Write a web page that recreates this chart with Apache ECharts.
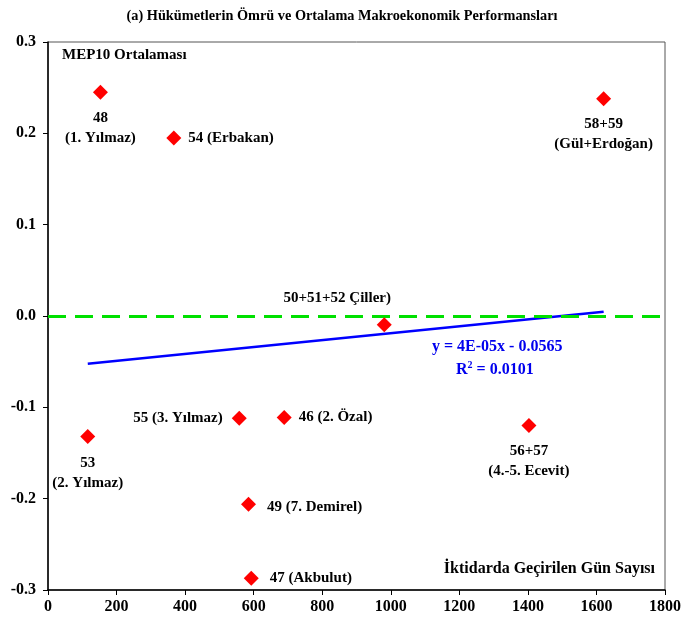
<!DOCTYPE html>
<html><head><meta charset="utf-8">
<script src="https://cdn.jsdelivr.net/npm/echarts@6/dist/echarts.min.js"></script>
<style>html,body{margin:0;padding:0;background:#fff}#c{width:684px;height:631px}</style>
</head><body><div id="c"></div>
<script>
// Data
const days = [153, 367, 1621, 981, 558, 689, 116, 1403, 585, 593];
const mep10 = [0.245, 0.195, 0.238, -0.0095, -0.112, -0.111, -0.132, -0.120, -0.206, -0.287];
const names = ['48\n(1. Yılmaz)', '54 (Erbakan)', '58+59\n(Gül+Erdoğan)', '50+51+52 Çiller)', '55 (3. Yılmaz)', '46 (2. Özal)', '53\n(2. Yılmaz)', '56+57\n(4.-5. Ecevit)', '49 (7. Demirel)', '47 (Akbulut)'];
const xTicks = [0, 200, 400, 600, 800, 1000, 1200, 1400, 1600, 1800];
const yTicks = [-0.3, -0.2, -0.1, 0.0, 0.1, 0.2, 0.3];
const titleText = '(a) Hükümetlerin Ömrü ve Ortalama Makroekonomik Performansları';
const yName = 'MEP10 Ortalaması';
const xName = 'İktidarda Geçirilen Gün Sayısı';
const eqText = 'y = 4E-05x - 0.0565';
const r2Text = '0.0101';

// label placement (style, not data)
const placement = [
  {position: 'bottom', distance: 8},
  {position: 'right', distance: 7},
  {position: 'bottom', distance: 8},
  {position: 'top', distance: 9, offset: [-47, 0]},
  {position: 'left', distance: 9},
  {position: 'right', distance: 7},
  {position: 'bottom', distance: 9},
  {position: 'bottom', distance: 8},
  {position: 'right', distance: 11, offset: [0, 3]},
  {position: 'right', distance: 11}
];

// regression computed from data
const n = days.length;
const mx = days.reduce((a,b)=>a+b,0)/n, my = mep10.reduce((a,b)=>a+b,0)/n;
let sxy=0, sxx=0;
for (let i=0;i<n;i++){ sxy += (days[i]-mx)*(mep10[i]-my); sxx += (days[i]-mx)**2; }
const slope = sxy/sxx, intercept = my - slope*mx;
const xmin = Math.min(...days), xmax = Math.max(...days);
const trend = [[xmin, intercept+slope*xmin],[xmax, intercept+slope*xmax]];

const font = '"Liberation Serif", "Times New Roman", serif';
const lab = {fontFamily: font, fontWeight: 'bold', fontSize: 15, color: '#000', lineHeight: 20};

const chart = echarts.init(document.getElementById('c'), null, {renderer: 'canvas'});
chart.setOption({
  animation: false,
  backgroundColor: '#fff',
  title: {text: titleText, left: 'center', top: 4, textStyle: {fontFamily: font, fontWeight: 'bold', fontSize: 14.3, color: '#000'}},
  grid: {left: 48, right: 15, top: 42, bottom: 41, show: true, borderColor: '#555', borderWidth: 1, backgroundColor: 'transparent'},
  xAxis: {type: 'value', min: xTicks[0], max: xTicks[xTicks.length-1], interval: 200,
    axisLine: {show: true, onZero: false, lineStyle: {color: '#000', width: 1.5}},
    axisTick: {show: true, length: 5, lineStyle: {color: '#000'}},
    splitLine: {show: false},
    axisLabel: {margin: 9, fontFamily: font, fontWeight: 'bold', fontSize: 16, color: '#000', formatter: v => String(v)}},
  yAxis: {type: 'value', min: yTicks[0], max: yTicks[yTicks.length-1], interval: 0.1,
    axisLine: {show: true, onZero: false, lineStyle: {color: '#000', width: 1.5}},
    axisTick: {show: true, length: 5, lineStyle: {color: '#000'}},
    splitLine: {show: false},
    axisLabel: {margin: 12, fontFamily: font, fontWeight: 'bold', fontSize: 16, color: '#000', formatter: v => v.toFixed(1)}},
  graphic: [
    {type: 'text', left: 62, top: 48, style: {text: yName, font: 'bold 15px ' + font, fill: '#000'}},
    {type: 'text', right: 29, top: 561, style: {text: xName, font: 'bold 16px ' + font, fill: '#000'}},
    {type: 'text', left: 432, top: 339, style: {text: eqText, font: 'bold 16px ' + font, fill: '#0000ee'}},
    {type: 'text', left: 456, top: 360, style: {
      text: '{a|R}{s|2}{a| = ' + r2Text + '}',
      rich: {a: {font: 'bold 16px ' + font, fill: '#0000ee', color: '#0000ee', verticalAlign: 'bottom'},
             s: {font: 'bold 10px ' + font, fill: '#0000ee', color: '#0000ee', verticalAlign: 'top', padding: [0,0,8,0]}}}}
  ],
  series: [
    {type: 'line', data: trend, symbol: 'none', lineStyle: {color: '#0000ff', width: 2.5}, z: 3,
     markLine: {silent: true, symbol: 'none', label: {show: false},
       lineStyle: {color: '#00e000', width: 3, type: [18, 9]},
       data: [{yAxis: 0}]}},
    {type: 'scatter', symbol: 'diamond', symbolSize: 15, itemStyle: {color: '#ff0000', opacity: 1}, z: 5,
     data: days.map((d, i) => ({value: [d, mep10[i]], label: Object.assign({show: true, formatter: names[i]}, lab, placement[i])}))}
  ]
});
</script></body></html>
